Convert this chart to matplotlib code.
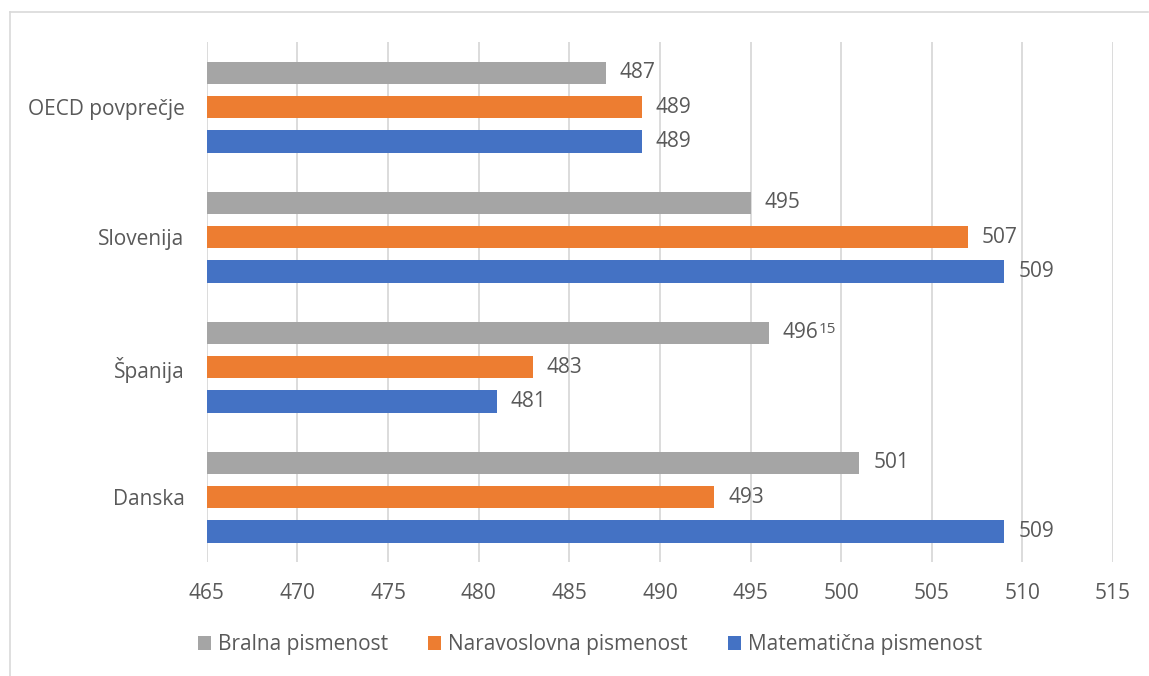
import matplotlib.pyplot as plt
import numpy as np
from matplotlib.lines import Line2D
from matplotlib.patches import Patch

# PISA scores by country
countries = ['OECD povprečje', 'Slovenija', 'Španija', 'Danska']
series = ['Bralna pismenost', 'Naravoslovna pismenost', 'Matematična pismenost']
bralna = [487, 495, 496, 501]
naravoslovna = [489, 507, 483, 493]
matematicna = [489, 509, 481, 509]
colors = ['#A5A5A5', '#ED7D31', '#4472C4']
xticks = list(range(465, 520, 5))

plt.rcParams['font.family'] = ['Open Sans', 'DejaVu Sans']
txt = '#595959'
fs = 15

fig = plt.figure(figsize=(11.49, 6.76), dpi=100)
ax = fig.add_axes([0.180, 0.1686, 0.7887, 0.7692])

y = np.arange(len(countries))
step = 0.265
h = 0.17
for k, (vals, col) in enumerate(zip([bralna, naravoslovna, matematicna], colors)):
    pos = y + (k - 1) * step
    ax.barh(pos, np.array(vals) - 465, left=465, height=h, color=col, zorder=3)
    for i, (p, v) in enumerate(zip(pos, vals)):
        t = ax.annotate(str(v), xy=(v, p), xytext=(10, 0), textcoords='offset points',
                        va='center', ha='left', fontsize=fs, color=txt)
        # footnote mark on the Spanish reading score
        if k == 0 and countries[i] == 'Španija':
            ax.annotate('15', xy=(1, 1), xycoords=t, xytext=(0, 0),
                        textcoords='offset points', va='top', ha='left',
                        fontsize=11, color=txt)

ax.set_xlim(465, 515)
ax.set_ylim(3.5, -0.5)
ax.set_xticks(xticks)
ax.set_yticks(y)
ax.set_yticklabels(countries)
ax.tick_params(axis='both', length=0, labelsize=fs, labelcolor=txt)
ax.tick_params(axis='x', pad=15)
ax.tick_params(axis='y', pad=16)
ax.grid(axis='x', color='#D9D9D9', linewidth=1.3, zorder=0)
for s in ax.spines.values():
    s.set_visible(False)

handles = [Patch(facecolor=c, edgecolor='none') for c in colors]
fig.legend(handles, series, loc='center', bbox_to_anchor=(0.5135, 0.046), ncol=3,
           frameon=False, fontsize=fs, labelcolor=txt, handlelength=0.63,
           handleheight=0.63, handletextpad=0.35, columnspacing=1.9)

# outer chart frame
fig.add_artist(Line2D([10 / 1149, 1148 / 1149], [1 - 12 / 676] * 2, color='#D9D9D9', lw=1.2))
fig.add_artist(Line2D([10 / 1149] * 2, [0, 1 - 12 / 676], color='#D9D9D9', lw=1.2))

fig.savefig('out.png', dpi=100, facecolor='white')
